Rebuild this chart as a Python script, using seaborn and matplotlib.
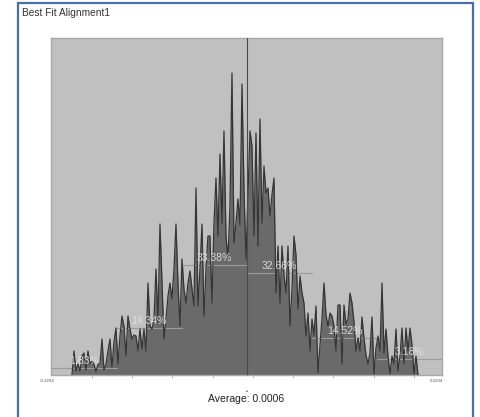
import numpy as np
import pandas as pd
import matplotlib
matplotlib.use("Agg")
import matplotlib.pyplot as plt
import seaborn as sns
from matplotlib.patches import Rectangle

# ---------------- data ----------------
title = "Best Fit Alignment1"
x_min, x_max = -0.2294, 0.2294
average = 0.0006
bin_start = -0.2048
bin_step = 0.002347
counts = [0, 24, 4, 11, 4, 19, 22, 5, 24, 11, 14, 11, 3, 11, 11, 36, 5, 11, 24, 36,
          8, 33, 47, 11, 39, 59, 49, 19, 59, 46, 36, 40, 39, 24, 46, 26, 46, 24, 92, 49,
          46, 56, 106, 53, 151, 92, 36, 56, 79, 92, 76, 106, 151, 92, 49, 116, 86, 72, 92, 104,
          86, 69, 187, 69, 106, 151, 59, 106, 139, 139, 72, 152, 197, 139, 221, 152, 244, 139, 116, 169,
          302, 132, 152, 176, 150, 291, 186, 116, 180, 244, 229, 139, 242, 129, 256, 152, 209, 182, 187, 159,
          180, 197, 82, 129, 72, 129, 100, 82, 129, 49, 86, 139, 120, 66, 99, 82, 72, 39, 62, 24,
          56, 40, 69, 2, 30, 56, 92, 60, 49, 62, 59, 49, 24, 70, 70, 11, 70, 51, 56, 82,
          72, 53, 24, 37, 24, 58, 37, 20, 11, 22, 58, 1, 27, 39, 24, 92, 22, 46, 19, 1,
          19, 11, 46, 4, 19, 47, 11, 47, 24, 47, 30, 1, 19, 0]
y_max = 337
band_edges = [-0.2294, -0.1523, -0.0761, 0.0006, 0.0768, 0.1530, 0.2294]
band_pcts = ["1.83%", "14.34%", "33.38%", "32.66%", "14.52%", "3.18%"]
band_levels = [7, 47, 110, 102, 37, 16]
minor_ticks = [-0.1813, -0.1341, -0.0869, -0.0397, 0.0075, 0.0547, 0.1019, 0.1491, 0.1963]

bins = bin_start + bin_step * np.arange(len(counts))
df = pd.DataFrame({"dev": bins, "count": counts})

# ---------------- figure ----------------
sns.set_style("white")
plt.rcParams['font.family'] = ['Liberation Sans', 'DejaVu Sans']

fig = plt.figure(figsize=(4.8, 4.17), dpi=100)
fig.patch.set_facecolor("white")
ax = fig.add_axes([51 / 480, 42 / 417, 391 / 480, 337 / 417])
ax.set_facecolor("#c0c0c0")

ax.fill_between(df["dev"], 0, df["count"], color="#6a6a6a", lw=0, zorder=2)
sns.lineplot(data=df, x="dev", y="count", ax=ax, color="#353535", lw=0.9, zorder=4)

# bands
for i, (lvl, pct) in enumerate(zip(band_levels, band_pcts)):
    a, b = band_edges[i], band_edges[i + 1]
    ax.plot([a, b], [lvl, lvl], color="#9a9a9a", lw=0.8, zorder=3)
    ax.text((a + b) / 2, lvl + 2, pct, ha="center", va="bottom", fontsize=7.5,
            color="#e2e2e2", alpha=0.9, zorder=6)

# mean line
ax.axvline(average, color="#4a4a4a", lw=0.8, zorder=5)

ax.set_xlim(x_min, x_max)
ax.set_ylim(0, y_max)
ax.set_xlabel("")
ax.set_ylabel("")
ax.set_yticks([])
ax.set_xticks(minor_ticks)
ax.set_xticklabels([])
ax.tick_params(axis="x", direction="out", length=2, width=0.6, color="#b0b0b0", bottom=True)
for s in ax.spines.values():
    s.set_color("#a8a8a8")
    s.set_linewidth(1.0)

# end labels and average
fig.text(47 / 480, 1 - 381 / 417, f"{x_min:.4f}", fontsize=3.2, color="#555555", ha="center", va="center")
fig.text(437 / 480, 1 - 381 / 417, f"{x_max:.4f}", fontsize=3.2, color="#555555", ha="center", va="center")
fig.text(247 / 480, 1 - 391 / 417, "•", fontsize=4, color="#333333", ha="center", va="center")
fig.text(246 / 480, 1 - 399 / 417, f"Average: {average:.4f}", fontsize=7.5, color="#222222",
         ha="center", va="center")

# title and frame
fig.text(22 / 480, 1 - 13 / 417, title, fontsize=7.3, color="#333333", ha="left", va="center")
fig.add_artist(Rectangle((18 / 480, -0.05), 455 / 480, 1 - 3 / 417 + 0.05,
                         transform=fig.transFigure, fill=False, edgecolor="#4a6ea8", lw=1.6))

fig.savefig("out.png", dpi=100, facecolor="white")
